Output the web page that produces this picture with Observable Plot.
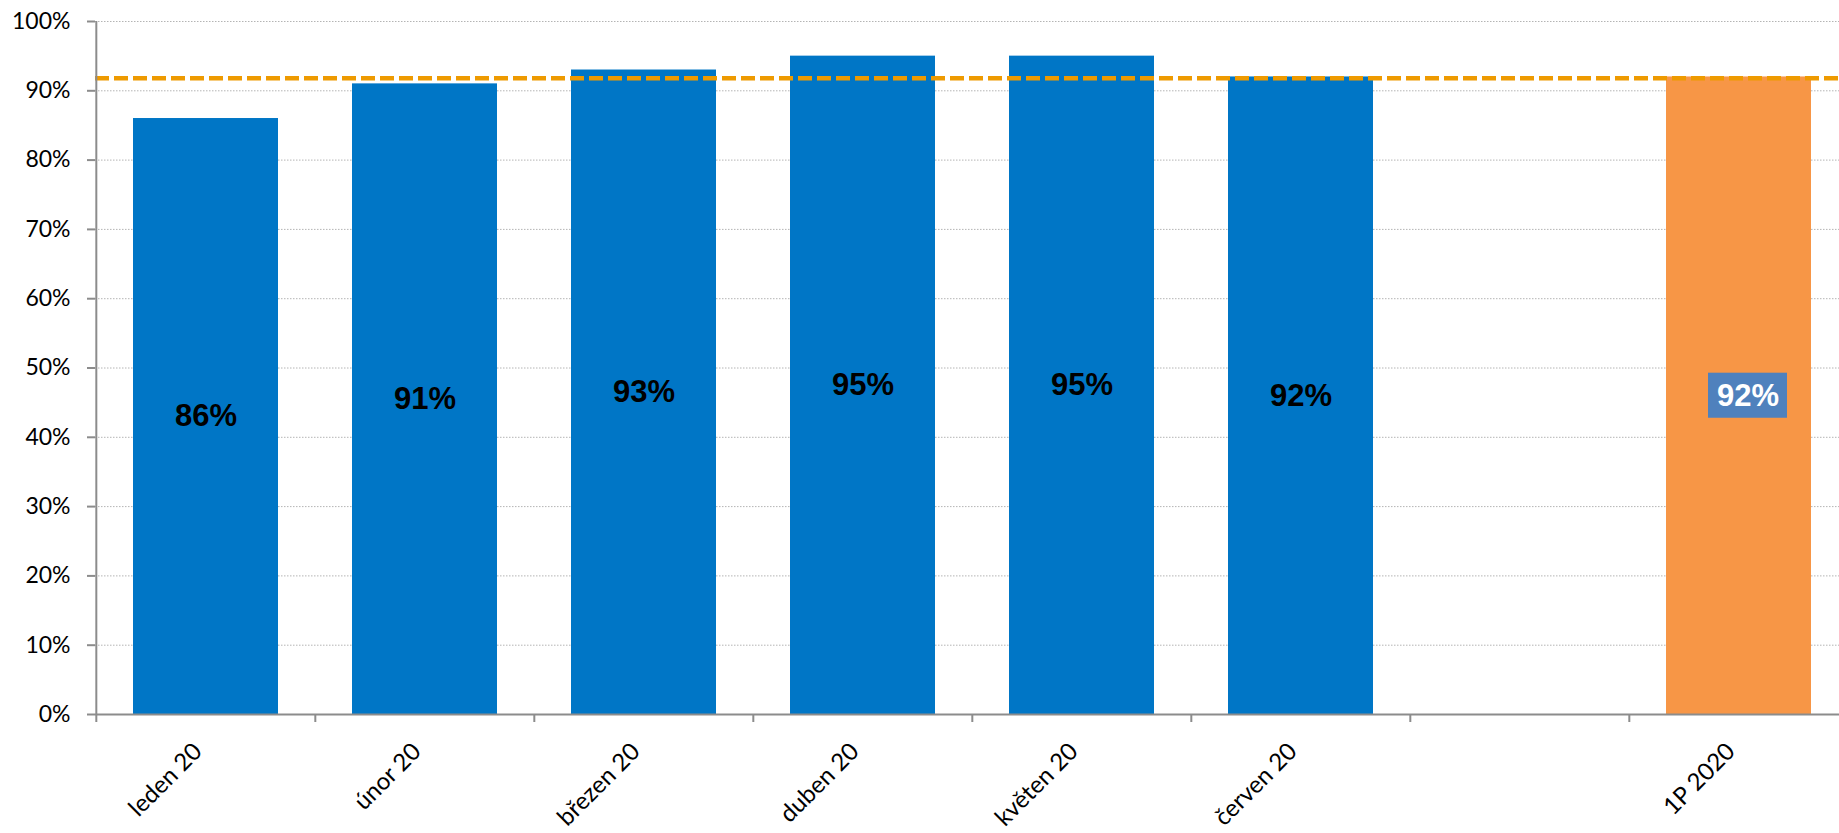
<!DOCTYPE html>
<html>
<head>
<meta charset="utf-8">
<script src="https://cdn.jsdelivr.net/npm/d3@7"></script>
<script src="https://cdn.jsdelivr.net/npm/@observablehq/plot@0.6"></script>
<style>
  html, body { margin: 0; padding: 0; background: #fff; }
  #chart svg { display: block; }
</style>
</head>
<body>
<div id="chart"></div>
<script>
// Data
const months = ["leden 20", "únor 20", "březen 20", "duben 20", "květen 20", "červen 20"];
const monthValues = [86, 91, 93, 95, 95, 92];
const gapCategory = " ";
const summaryCategory = "1P 2020";
const summaryValue = 92;
const averageLine = 91.8;
const yTicks = [0, 10, 20, 30, 40, 50, 60, 70, 80, 90, 100];

const categories = [...months, gapCategory, summaryCategory];
const monthData = months.map((m, i) => ({cat: m, value: monthValues[i]}));
const summaryData = [{cat: summaryCategory, value: summaryValue}];

const W = 1839, H = 833;
const xRange = [95, 1850];
const step = (xRange[1] - xRange[0]) / categories.length;
const axisGray = "#8c8c8c";
const axisFont = "Lato, 'Open Sans', sans-serif";
const labelFont = "'Liberation Sans', Arial, sans-serif";

const chart = Plot.plot({
  width: W,
  height: H,
  marginLeft: 95,
  marginRight: 0,
  marginTop: 21,
  marginBottom: 119,
  style: {fontFamily: axisFont, background: "#fff", overflow: "hidden"},
  x: {type: "band", domain: categories, range: xRange, paddingInner: 0.336, paddingOuter: 0.168},
  y: {domain: [0, 100]},
  marks: [
    Plot.gridY(yTicks.filter(d => d > 0), {stroke: "#b4b4b4", strokeOpacity: 1, strokeWidth: 1, strokeDasharray: "1.5,1.5"}),
    Plot.barY(monthData, {x: "cat", y: "value", fill: "#0076C6"}),
    Plot.barY(summaryData, {x: "cat", y: "value", fill: "#F79646"}),
    Plot.ruleY([averageLine], {stroke: "#EE9A00", strokeWidth: 4.5, strokeDasharray: "14,5"}),
    Plot.text(monthData, {x: "cat", y: d => d.value / 2, text: d => d.value + "%", fill: "#000",
      fontSize: 31, fontWeight: "bold", fontFamily: labelFont}),
    Plot.barY(summaryData, {x: "cat", y1: d => d.value / 2 - 3.25, y2: d => d.value / 2 + 3.25,
      fill: "#4F81BD", insetLeft: 33, insetRight: 33, dx: 9}),
    Plot.text(summaryData, {x: "cat", y: d => d.value / 2, text: d => d.value + "%", fill: "#fff",
      fontSize: 31, fontWeight: "bold", fontFamily: labelFont, dx: 9}),
    // axis lines
    Plot.ruleY([0], {stroke: axisGray, strokeWidth: 2}),
    Plot.ruleX([categories[0]], {y1: 0, y2: 100, dx: -step / 2, stroke: axisGray, strokeWidth: 2}),
    Plot.axisY({ticks: yTicks, tickFormat: d => d + "%", tickSize: 8, tickPadding: 17,
      stroke: axisGray, strokeWidth: 2, strokeOpacity: 1, fontSize: 23, color: "#000", label: null}),
    Plot.axisX({ticks: categories, tickSize: 8, text: null, dx: -step / 2, stroke: axisGray,
      strokeWidth: 2, strokeOpacity: 1, label: null}),
    Plot.axisX({ticks: categories, tickSize: 0, tickRotate: -45, tickPadding: 33, dx: -8,
      fontSize: 24, color: "#000", label: null})
  ]
});
document.getElementById("chart").appendChild(chart);
</script>
</body>
</html>
